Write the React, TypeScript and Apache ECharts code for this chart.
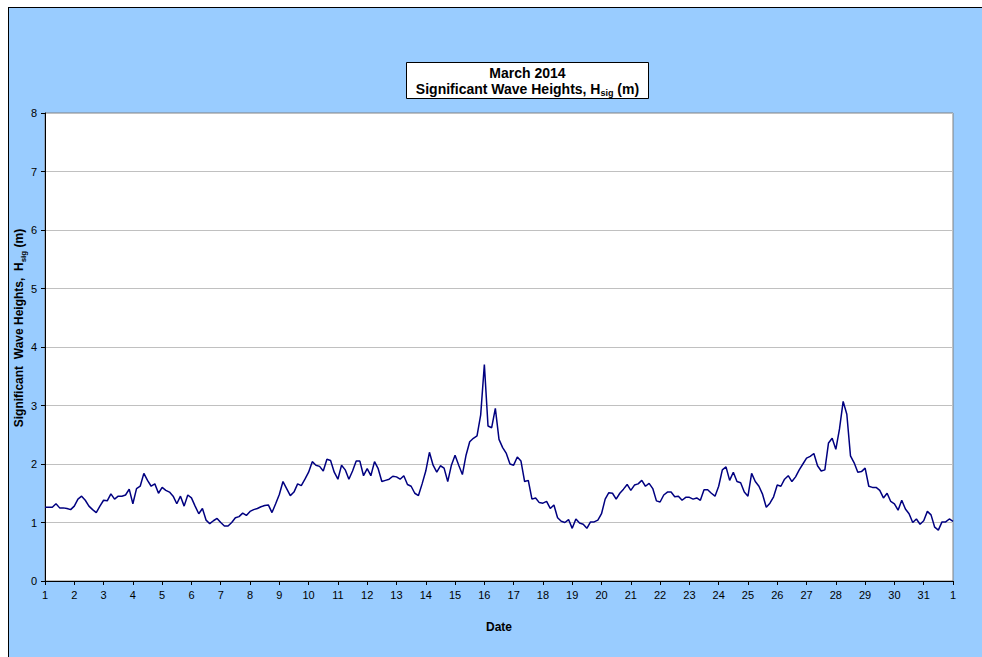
import React, { useEffect, useRef } from "react";
import * as echarts from "echarts";

// Significant wave height (m), 8 readings per day (every 3 h), 1 March 00:00 .. 1 April 00:00
const stepsPerDay = 8;
const hsig: number[] = [
  // 1
  1.26, 1.26, 1.26, 1.32, 1.25, 1.25, 1.24, 1.22,
  // 2
  1.28, 1.40, 1.45, 1.38, 1.28, 1.22, 1.17, 1.28,
  // 3
  1.38, 1.37, 1.49, 1.40, 1.45, 1.45, 1.47, 1.57,
  // 4
  1.32, 1.58, 1.62, 1.84, 1.72, 1.62, 1.66, 1.50,
  // 5
  1.60, 1.55, 1.52, 1.45, 1.32, 1.45, 1.28, 1.47,
  // 6
  1.42, 1.28, 1.15, 1.24, 1.04, 0.98, 1.03, 1.07,
  // 7
  1.00, 0.94, 0.94, 1.00, 1.08, 1.10, 1.16, 1.12,
  // 8
  1.19, 1.22, 1.24, 1.27, 1.29, 1.30, 1.17, 1.32,
  // 9
  1.48, 1.70, 1.58, 1.46, 1.52, 1.66, 1.63, 1.74,
  // 10
  1.86, 2.04, 1.98, 1.96, 1.88, 2.08, 2.06, 1.86,
  // 11
  1.74, 1.98, 1.90, 1.74, 1.88, 2.05, 2.05, 1.80,
  // 12
  1.92, 1.80, 2.04, 1.92, 1.70, 1.72, 1.74, 1.79,
  // 13
  1.78, 1.74, 1.80, 1.65, 1.62, 1.50, 1.46, 1.66,
  // 14
  1.88, 2.20, 1.98, 1.86, 1.97, 1.93, 1.70, 1.98,
  // 15
  2.15, 1.98, 1.82, 2.15, 2.38, 2.44, 2.48, 2.84,
  // 16
  3.70, 2.65, 2.62, 2.95, 2.42, 2.28, 2.18, 2.00,
  // 17
  1.98, 2.12, 2.05, 1.70, 1.72, 1.40, 1.42, 1.34,
  // 18
  1.33, 1.36, 1.24, 1.30, 1.08, 1.02, 1.00, 1.05,
  // 19
  0.90, 1.06, 0.99, 0.97, 0.90, 1.01, 1.01, 1.04,
  // 20
  1.15, 1.40, 1.51, 1.50, 1.40, 1.50, 1.57, 1.65,
  // 21
  1.55, 1.64, 1.66, 1.72, 1.62, 1.67, 1.58, 1.37,
  // 22
  1.35, 1.47, 1.52, 1.52, 1.44, 1.45, 1.38, 1.43,
  // 23
  1.43, 1.40, 1.42, 1.38, 1.56, 1.56, 1.50, 1.45,
  // 24
  1.62, 1.90, 1.95, 1.72, 1.86, 1.70, 1.68, 1.52,
  // 25
  1.45, 1.84, 1.70, 1.62, 1.48, 1.26, 1.33, 1.44,
  // 26
  1.64, 1.62, 1.74, 1.80, 1.70, 1.78, 1.90, 2.00,
  // 27
  2.10, 2.13, 2.18, 1.97, 1.88, 1.90, 2.36, 2.44,
  // 28
  2.25, 2.60, 3.07, 2.85, 2.14, 2.02, 1.86, 1.87,
  // 29
  1.93, 1.62, 1.60, 1.60, 1.55, 1.42, 1.50, 1.36,
  // 30
  1.32, 1.21, 1.38, 1.23, 1.15, 1.00, 1.06, 0.97,
  // 31
  1.03, 1.19, 1.13, 0.92, 0.87, 1.01, 1.01, 1.06,
  // 1 April
  1.02,
];

const xMin = 1;
const xMax = 32; // 1 April
const yMin = 0;
const yMax = 8;
const titleLine1 = "March 2014";
const xAxisTitle = "Date";

const FONT = 'Arial, "Liberation Sans", sans-serif';

export default function App() {
  const ref = useRef<HTMLDivElement>(null);

  useEffect(() => {
    if (!ref.current) return;
    const chart = echarts.init(ref.current, null, { renderer: "svg" });
    const data = hsig.map((v, i) => [xMin + i / stepsPerDay, v]);

    chart.setOption({
      animation: false,
      backgroundColor: "transparent",
      grid: {
        left: 36,
        right: 39,
        top: 105,
        bottom: 86,
        show: true,
        backgroundColor: "#ffffff",
        borderColor: "#808080",
        borderWidth: 1,
      },
      xAxis: {
        type: "value",
        min: xMin,
        max: xMax,
        interval: 1,
        name: xAxisTitle,
        nameLocation: "middle",
        nameGap: 40,
        nameTextStyle: { fontFamily: FONT, fontSize: 12, fontWeight: "bold", color: "#000" },
        axisLine: { show: true, lineStyle: { color: "#000", width: 1 } },
        axisTick: { show: true, length: 4, lineStyle: { color: "#000" } },
        axisLabel: {
          fontFamily: FONT,
          fontSize: 11,
          color: "#000",
          margin: 8,
          formatter: (v: number) => (v === xMax ? "1" : String(v)),
        },
        splitLine: { show: false },
      },
      yAxis: {
        type: "value",
        min: yMin,
        max: yMax,
        interval: 1,
        axisLine: { show: true, lineStyle: { color: "#000", width: 1 } },
        axisTick: { show: true, length: 4, lineStyle: { color: "#000" } },
        axisLabel: { fontFamily: FONT, fontSize: 11, color: "#000", margin: 8 },
        splitLine: { show: true, lineStyle: { color: "#c0c0c0", width: 1 } },
      },
      series: [
        {
          type: "line",
          data,
          showSymbol: false,
          symbol: "none",
          lineStyle: { color: "#000080", width: 1.5 },
          z: 3,
        },
      ],
      graphic: [
        {
          type: "group",
          left: 397,
          top: 54,
          children: [
            {
              type: "rect",
              shape: { x: 0, y: 0, width: 242, height: 36 },
              style: { fill: "#ffffff", stroke: "#000000", lineWidth: 1 },
            },
            {
              type: "text",
              x: 121,
              y: 10,
              style: {
                text: titleLine1,
                font: `bold 14px ${FONT}`,
                fill: "#000",
                align: "center",
                verticalAlign: "middle",
              },
            },
            {
              type: "text",
              x: 121,
              y: 26,
              style: {
                text: "{b|Significant Wave Heights, H}{s|sig}{b| (m)}",
                fill: "#000",
                align: "center",
                verticalAlign: "middle",
                rich: {
                  b: { fontFamily: FONT, fontSize: 14, fontWeight: "bold", lineHeight: 18, verticalAlign: "middle" },
                  s: { fontFamily: FONT, fontSize: 9, fontWeight: "bold", lineHeight: 9, verticalAlign: "bottom" },
                },
              },
            },
          ],
        },
        {
          type: "text",
          x: 10,
          y: 320,
          rotation: Math.PI / 2,
          style: {
            text: "{b|Significant  Wave Heights,  H}{s|sig}{b| (m)}",
            fill: "#000",
            align: "center",
            verticalAlign: "middle",
            rich: {
              b: { fontFamily: FONT, fontSize: 12, fontWeight: "bold", lineHeight: 16, verticalAlign: "middle" },
              s: { fontFamily: FONT, fontSize: 8, fontWeight: "bold", lineHeight: 8, verticalAlign: "bottom" },
            },
          },
        },
      ],
    });

    return () => chart.dispose();
  }, []);

  return (
    <div
      ref={ref}
      style={{
        position: "fixed",
        left: 8,
        top: 7,
        width: 983,
        height: 659,
        background: "#99CCFF",
        borderLeft: "1px solid #000",
        borderTop: "1px solid #000",
      }}
    />
  );
}
